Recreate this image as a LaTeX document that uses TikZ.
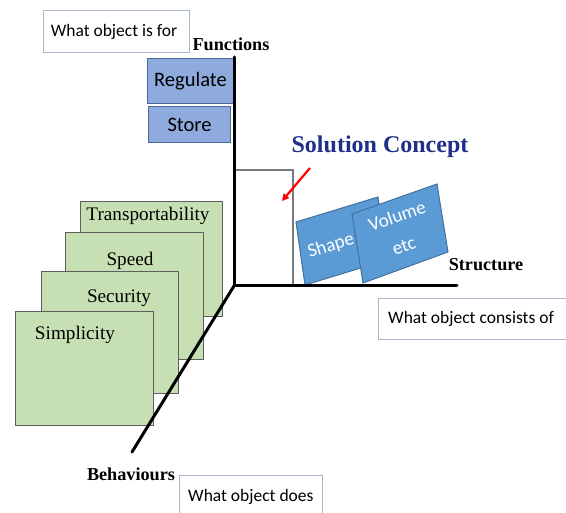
\documentclass[tikz,border=0pt]{standalone}
\usepackage{fontspec}
\setmainfont{Liberation Serif}
\newfontfamily\calfont{Carlito}
\usetikzlibrary{arrows.meta}
\definecolor{notebd}{HTML}{A9B8CC}
\definecolor{funcfill}{HTML}{8FAADC}
\definecolor{funcbd}{HTML}{4A6A9E}
\definecolor{cardfill}{HTML}{C6E0B4}
\definecolor{cardbd}{HTML}{5E5E5E}
\definecolor{structfill}{HTML}{5B9BD5}
\definecolor{structbd}{HTML}{41719C}
\definecolor{conceptblue}{HTML}{1F2F8A}
\definecolor{frameline}{HTML}{7A7A7A}
\begin{document}
\begin{tikzpicture}[x=1pt,y=-1pt,
  note/.style={draw=notebd, line width=1.3pt, fill=white, anchor=north west, inner sep=0pt},
  notetext/.style={font=\calfont\fontsize{17.5}{20}\selectfont, inner sep=0pt},
  funcbox/.style={draw=funcbd, line width=1pt, fill=funcfill, anchor=north west,
    inner sep=0pt, font=\calfont\fontsize{20.5}{24}\selectfont},
  card/.style={draw=cardbd, line width=1.2pt, fill=cardfill, anchor=north west, inner sep=0pt},
  cardtext/.style={font=\fontsize{19.2}{22}\selectfont, inner sep=0pt},
  axis/.style={line width=3pt, line cap=round},
  axislabel/.style={font=\bfseries\fontsize{18.2}{21}\selectfont, inner sep=0pt},
  structbox/.style={draw=structbd, line width=1pt, fill=structfill},
  structtext/.style={text=white, font=\calfont\fontsize{19}{21}\selectfont, inner sep=0pt, align=center}
]
\useasboundingbox (0,0) rectangle (566,513);

% axis corner and ends
\coordinate (O) at (234,286);
\coordinate (ftop) at (234,57);
\coordinate (send) at (457,286);
\coordinate (bend) at (132,452);

% functions
\node[note, minimum width=146pt, minimum height=42pt] (whatfor) at (43,10) {};
\node[notetext] (whatfortext) at (114,32) {What object is for};
\node[axislabel] (functions) at (231,44) {Functions};
\node[funcbox, minimum width=86pt, minimum height=45pt] (regulate) at (147,58) {Regulate};
\node[funcbox, minimum width=82pt, minimum height=36pt] (store) at (148,106) {Store};

% behaviour cards, back to front
\node[card, minimum width=142pt, minimum height=115pt] (c1) at (80,201) {};
\node[cardtext] (t1) at (148,216) {Transportability};
\node[card, minimum width=138pt, minimum height=127pt] (c2) at (65,232) {};
\node[cardtext] (t2) at (130,261) {Speed};
\node[card, minimum width=137pt, minimum height=122pt] (c3) at (41,271) {};
\node[cardtext] (t3) at (119,298) {Security};
\node[card, minimum width=138pt, minimum height=114pt] (c4) at (15,311) {};
\node[cardtext] (t4) at (75,335) {Simplicity};

% solution concept frame
\coordinate (fa) at (234,170);
\coordinate (fb) at (293,170);
\coordinate (fc) at (293,285);
\draw[frameline, line width=1.5pt] (fa) -- (fb) -- (fc);
\node[font=\bfseries\fontsize{24}{28}\selectfont, text=conceptblue, inner sep=0pt] (concept) at (380,147) {Solution Concept};
\coordinate (arrA) at (310,168);
\coordinate (arrB) at (282,201);
\draw[red, line width=2.2pt, -{Triangle[length=7pt,width=7pt]}] (arrA) -- (arrB);

% structure elements
\draw[structbox] (296,222) -- (378,197) -- (387,260) -- (305,285) -- cycle;
\node[structtext, rotate=17] (shape) at (331,246) {Shape};
\draw[structbox] (352,214) -- (437,184) -- (448,252) -- (363,283) -- cycle;
\node[structtext, rotate=19] (volume) at (397,216) {Volume};
\node[structtext, rotate=19] (etc) at (404,246) {etc};

% axes
\draw[axis] (ftop) -- (O) -- (send);
\draw[axis] (O) -- (bend);
\node[axislabel] (structure) at (486,265) {Structure};
\node[axislabel] (behaviours) at (131,474) {Behaviours};

% notes
\node[note, minimum width=192pt, minimum height=41pt] (consists) at (378,298) {};
\node[notetext, anchor=west] (consiststext) at (388,319) {What object consists of};
\node[note, minimum width=143pt, minimum height=50pt] (does) at (179,475) {};
\node[notetext, anchor=west] (doestext) at (188,497) {What object does};
\end{tikzpicture}
\end{document}
